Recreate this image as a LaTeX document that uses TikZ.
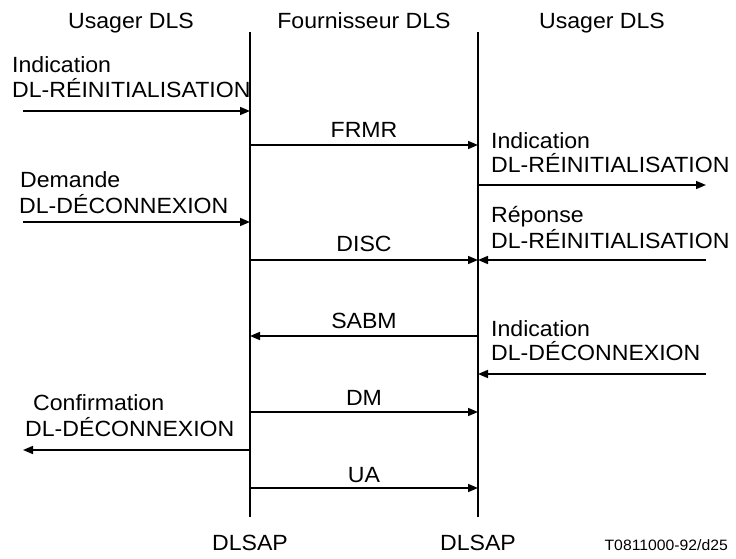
\documentclass[tikz,border=0pt]{standalone}
\usepackage{fontspec}
\setmainfont{Liberation Sans}[FakeStretch=1.05]
\usetikzlibrary{arrows.meta}
\begin{document}
\begin{tikzpicture}[x=1pt,y=-1pt,
  txt/.style={inner sep=0pt,font=\fontsize{22}{24}\selectfont},
  lbl/.style={txt,anchor=base west},
  mid/.style={txt,anchor=base},
  life/.style={line width=1.6pt},
  msg/.style={line width=1.6pt,-{Triangle[length=10pt,width=8pt]}}]
\useasboundingbox (0,0) rectangle (736,558);
% headers
\node[mid] (h1) at (131,28) {Usager DLS};
\node[mid] (h2) at (364,28) {Fournisseur DLS};
\node[mid] (h3) at (602,28) {Usager DLS};
% lifelines
\coordinate (Lt) at (250,32); \coordinate (Lb) at (250,517);
\coordinate (Rt) at (478,32); \coordinate (Rb) at (478,517);
\draw[life] (Lt) -- (Lb);
\draw[life] (Rt) -- (Rb);
\node[mid] (d1) at (250,550) {DLSAP};
\node[mid] (d2) at (478,550) {DLSAP};
\node[inner sep=0pt,anchor=base east,font=\fontsize{15}{16}\selectfont] (ref) at (728,550) {T0811000-92/d25};
% 1 left indication
\node[lbl] (t1a) at (12,72) {Indication};
\node[lbl] (t1b) at (12,97) {DL-RÉINITIALISATION};
\coordinate (a1s) at (23,111); \coordinate (a1e) at (250,111);
\draw[msg] (a1s) -- (a1e);
% FRMR
\node[mid] (frmr) at (364,137) {FRMR};
\coordinate (a2s) at (250,145); \coordinate (a2e) at (478,145);
\draw[msg] (a2s) -- (a2e);
% right indication
\node[lbl] (t3a) at (491,148) {Indication};
\node[lbl] (t3b) at (491,172) {DL-RÉINITIALISATION};
\coordinate (a3s) at (478,185); \coordinate (a3e) at (706,185);
\draw[msg] (a3s) -- (a3e);
% demande
\node[lbl] (t4a) at (20,187) {Demande};
\node[lbl] (t4b) at (19,213) {DL-DÉCONNEXION};
\coordinate (a4s) at (23,222); \coordinate (a4e) at (250,222);
\draw[msg] (a4s) -- (a4e);
% DISC
\node[mid] (disc) at (364,251) {DISC};
\coordinate (a5s) at (250,260); \coordinate (a5e) at (478,260);
\draw[msg] (a5s) -- (a5e);
% reponse
\node[lbl] (t6a) at (491,222) {Réponse};
\node[lbl] (t6b) at (491,248) {DL-RÉINITIALISATION};
\coordinate (a6s) at (706,260); \coordinate (a6e) at (478,260);
\draw[msg] (a6s) -- (a6e);
% SABM
\node[mid] (sabm) at (364,328) {SABM};
\coordinate (a7s) at (478,336); \coordinate (a7e) at (250,336);
\draw[msg] (a7s) -- (a7e);
% right indication deconnexion
\node[lbl] (t8a) at (491,336) {Indication};
\node[lbl] (t8b) at (491,360) {DL-DÉCONNEXION};
\coordinate (a8s) at (706,374); \coordinate (a8e) at (478,374);
\draw[msg] (a8s) -- (a8e);
% DM
\node[mid] (dm) at (364,405) {DM};
\coordinate (a9s) at (250,412); \coordinate (a9e) at (478,412);
\draw[msg] (a9s) -- (a9e);
% confirmation
\node[lbl] (t10a) at (33,410) {Confirmation};
\node[lbl] (t10b) at (25,436) {DL-DÉCONNEXION};
\coordinate (a10s) at (250,450); \coordinate (a10e) at (23,450);
\draw[msg] (a10s) -- (a10e);
% UA
\node[mid] (ua) at (364,482) {UA};
\coordinate (a11s) at (250,488); \coordinate (a11e) at (478,488);
\draw[msg] (a11s) -- (a11e);
\end{tikzpicture}
\end{document}
